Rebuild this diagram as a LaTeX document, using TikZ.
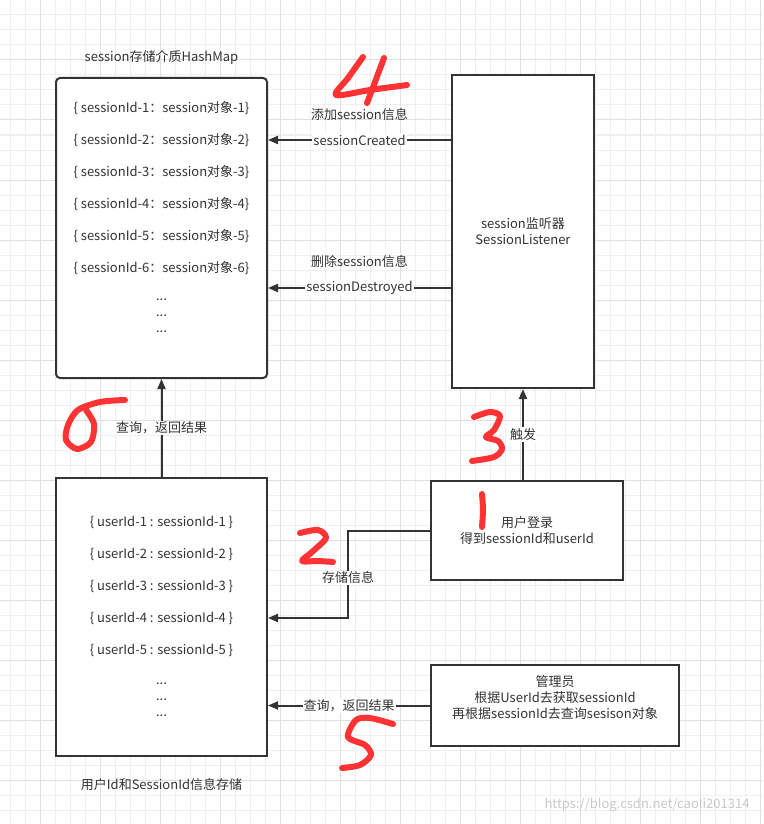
\documentclass[tikz,border=0pt]{standalone}
\usepackage{fontspec}
\setmainfont{Noto Sans CJK SC}
\usetikzlibrary{arrows.meta, positioning, calc}
\definecolor{InkGray}{HTML}{333333}
\definecolor{GridMinor}{HTML}{EFEFEF}
\definecolor{GridMajor}{HTML}{E0E0E0}
\definecolor{MarkRed}{HTML}{FF3333}
\definecolor{MarkGray}{HTML}{C8C8C8}

\tikzset{
  box/.style={draw=InkGray, line width=2pt, fill=white},
  entry/.style={text=InkGray, inner sep=1pt},
  lbl/.style={fill=white, text=InkGray, inner sep=1pt},
  arr/.style={draw=InkGray, line width=2pt, -{Triangle[length=10pt,width=8pt]}},
  numstroke/.style={draw=MarkRed, line width=6pt, line cap=round, line join=round},
}

\begin{document}
\begin{tikzpicture}[x=1pt, y=-1pt, font=\fontsize{13}{16}\selectfont]
  \useasboundingbox (0,0) rectangle (763,824);
  % grid
  \foreach \x in {10,25,...,760}
    \draw[GridMinor, line width=1pt] (\x,0) -- (\x,824);
  \foreach \y in {0,15,...,824}
    \draw[GridMinor, line width=1pt] (0,\y) -- (763,\y);
  \foreach \x in {40,100,...,760}
    \draw[GridMajor, line width=1pt] (\x,0) -- (\x,824);
  \foreach \y in {0,60,...,824}
    \draw[GridMajor, line width=1pt] (0,\y) -- (763,\y);

  % session store
  \node[box, rounded corners=4pt, minimum width=211pt, minimum height=300pt] (hashmap) at (161.5,228) {};
  \node[entry] (hashtitle) at (161.5,57) {session存储介质HashMap};
  \foreach \i in {1,...,6}
    \node[entry] (hm\i) at (161.5,76+32*\i) {\{ sessionId-\i：session对象-\i\}};
  \foreach \i/\y in {1/300, 2/316, 3/332}
    \node[entry] (hmdot\i) at (161.5,\y) {...};

  % listener
  \node[box, minimum width=142pt, minimum height=313pt, align=center, text=InkGray] (listener) at (523,231.5)
        {session监听器\\SessionListener};

  % userId store
  \node[box, minimum width=211pt, minimum height=278pt] (userid) at (161.5,617) {};
  \node[entry] (usertitle) at (161.5,785) {用户Id和SessionId信息存储};
  \foreach \i in {1,...,5}
    \node[entry] (um\i) at (161.5,490+32*\i) {\{ userId-\i\ : sessionId-\i\ \}};
  \foreach \i/\y in {1/684, 2/700, 3/716}
    \node[entry] (umdot\i) at (161.5,\y) {...};

  % login and admin
  \node[box, minimum width=192pt, minimum height=99pt, align=center, text=InkGray] (login) at (527,530.5)
        {用户登录\\得到sessionId和userId};
  \node[box, minimum width=248pt, minimum height=81pt] (admin) at (555,705.5) {};
  \node[entry, align=center] (admintext) at (555,698)
        {管理员\\根据UserId去获取sessionId\\再根据sessionId去查询sesison对象};

  % connectors
  \coordinate (destroyrow) at (0,288);
  \draw[arr] (listener.west |- hm2) -- (hashmap.east |- hm2)
        node[midway, lbl] (created) {sessionCreated};
  \node[entry] (addinfo) at ($(created)+(0,-25)$) {添加session信息};
  \draw[arr] (listener.west |- destroyrow) -- (hashmap.east |- destroyrow)
        node[midway, lbl] (destroyed) {sessionDestroyed};
  \node[entry] (delinfo) at ($(destroyed)+(0,-26)$) {删除session信息};

  \draw[arr] (userid.north) -- (hashmap.south)
        node[midway, lbl] {查询，返回结果};
  \draw[arr] (listener.south |- login.north) -- (listener.south)
        node[midway, lbl] {触发};
  \draw[arr] (login.west) -- ++(-82,0) |- (userid.east |- um4)
        node[pos=0.27, lbl] {存储信息};
  \draw[arr] (admin.west) -- (userid.east |- admin.west)
        node[midway, lbl] {查询，返回结果};

  \node[text=MarkGray, anchor=east, font=\fontsize{13}{15}\selectfont] (mark) at (753,805)
        {https://blog.csdn.net/caoli201314};

  % hand written step numbers
  \draw[numstroke] plot[smooth] coordinates {(482,494) (483,510) (482,527)};
  \draw[numstroke] plot[smooth] coordinates {(300,533) (318,530) (326,538) (312,552) (302,561) (318,561) (333,562)};
  \draw[numstroke] plot[smooth] coordinates {(474,417) (490,412) (500,416) (494,430) (486,437) (498,441) (502,449) (494,457) (472,461)};
  \draw[numstroke] plot[smooth] coordinates {(363,57) (348,78) (336,95) (370,90) (407,85)};
  \draw[numstroke] plot[smooth] coordinates {(384,58) (375,82) (367,103)};
  \draw[numstroke] plot[smooth] coordinates {(393,724) (370,718) (356,720) (348,737) (365,745) (371,755) (360,765) (342,768)};
  \draw[numstroke] plot[smooth] coordinates {(125,400) (100,402) (78,410) (68,425) (66,440) (77,449) (91,442) (94,424) (86,410)};
\end{tikzpicture}
\end{document}
